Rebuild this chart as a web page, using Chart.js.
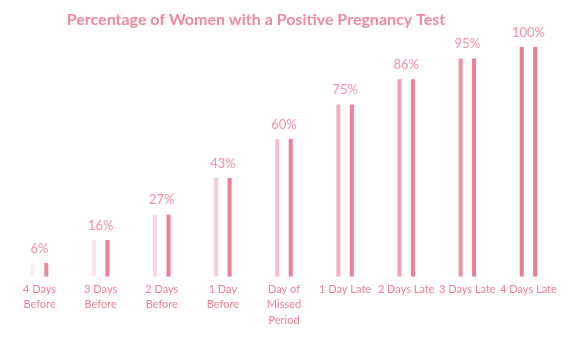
<!DOCTYPE html>
<html lang="en">
<head>
<meta charset="UTF-8">
<title>Percentage of Women with a Positive Pregnancy Test</title>
<script src="https://cdn.jsdelivr.net/npm/chart.js@4.4.0/dist/chart.umd.min.js"></script>
<style>
  html, body { margin: 0; padding: 0; background: #fff; }
  #wrap { width: 577px; height: 338px; }
</style>
</head>
<body>
<div id="wrap"><canvas id="chart"></canvas></div>
<script>
// ── Data ─────────────────────────────────────────────────────────────────────
const categories = [
  ["4 Days", "Before"],
  ["3 Days", "Before"],
  ["2 Days", "Before"],
  ["1 Day", "Before"],
  ["Day of", "Missed", "Period"],
  "1 Day Late",
  "2 Days Late",
  "3 Days Late",
  "4 Days Late"
];
const positivePct = [6, 16, 27, 43, 60, 75, 86, 95, 100];

// first bar of each pair fades in from pale to full pink
const fadeColors = ["#fbeef1", "#fbe4ea", "#f9d8e0", "#f8cbd6", "#f6bdcb", "#f3afbf", "#f0a1b3", "#eb91a4", "#e4818f"];
const solidColors = ["#ee8aa0", "#ee7f96", "#ee7f96", "#ee7f96", "#ee7f96", "#ee7f96", "#ee7f96", "#ec7f95", "#e3818f"];

const PINK = "#ee7f96";

// ── Plugins: title + value labels ────────────────────────────────────────────
const titlePlugin = {
  id: "leftTitle",
  afterDraw(chart) {
    const ctx = chart.ctx;
    ctx.save();
    ctx.font = "bold 16px Lato, 'Open Sans', sans-serif";
    ctx.fillStyle = "#ef89a0";
    ctx.textAlign = "center";
    ctx.textBaseline = "middle";
    ctx.fillText("Percentage of Women with a Positive Pregnancy Test", 256, 20);
    ctx.restore();
  }
};

const valueLabels = {
  id: "valueLabels",
  afterDatasetsDraw(chart) {
    const ctx = chart.ctx;
    const x = chart.scales.x, y = chart.scales.y;
    ctx.save();
    ctx.font = "13px Lato, 'Open Sans', sans-serif";
    ctx.fillStyle = "#f08fa5";
    ctx.textAlign = "center";
    ctx.textBaseline = "bottom";
    positivePct.forEach((v, i) => {
      ctx.fillText(v + "%", x.getPixelForValue(i), y.getPixelForValue(v) - 8);
    });
    ctx.restore();
  }
};

// ── Chart ────────────────────────────────────────────────────────────────────
new Chart(document.getElementById("chart"), {
  type: "bar",
  data: {
    labels: categories,
    datasets: [
      { data: positivePct, backgroundColor: fadeColors },
      { data: positivePct, backgroundColor: solidColors }
    ]
  },
  options: {
    responsive: true,
    maintainAspectRatio: false,
    animation: false,
    categoryPercentage: 0.44,
    barPercentage: 0.3,
    layout: { padding: { top: 47, left: 9, right: 18, bottom: 5 } },
    plugins: {
      legend: { display: false },
      title: { display: false },
      tooltip: { enabled: false }
    },
    scales: {
      x: {
        grid: { display: false, drawTicks: false },
        border: { display: false },
        ticks: {
          color: PINK,
          font: { family: "Lato, 'Open Sans', sans-serif", size: 11, lineHeight: 1.4 },
          padding: 5,
          maxRotation: 0,
          autoSkip: false
        }
      },
      y: {
        display: false,
        min: 0,
        max: 100
      }
    }
  },
  plugins: [titlePlugin, valueLabels]
});
</script>
</body>
</html>
